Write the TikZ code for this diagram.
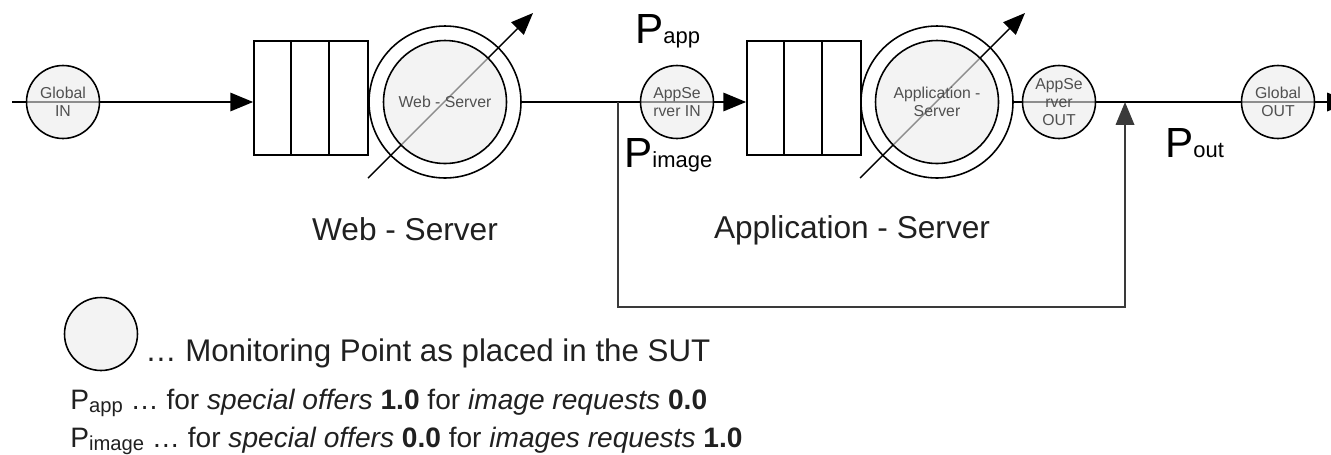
\documentclass[tikz,border=0pt]{standalone}
\usepackage{fontspec}
\setmainfont{Liberation Sans}
\usetikzlibrary{arrows.meta,backgrounds}
\definecolor{monfill}{HTML}{EBEBEB}
\definecolor{montext}{HTML}{505050}
\definecolor{loopgray}{HTML}{3A3A3A}
\definecolor{labeltext}{HTML}{202020}
\newcommand{\psub}[1]{{\fontsize{12.5}{13}\selectfont #1}}
\newcommand{\legsub}[1]{\raisebox{-2pt}{\fontsize{11.5}{12}\selectfont #1}}
\tikzset{
  monpoint/.style={circle,draw,line width=0.9pt,fill=monfill,fill opacity=0.6,
    text opacity=1,draw opacity=1,minimum size=1.46cm,inner sep=0pt,align=center,
    text=montext,font=\fontsize{9}{10.2}\selectfont},
  srvcircle/.style={monpoint,minimum size=2.46cm},
  srvring/.style={circle,draw,line width=0.9pt,minimum size=3.04cm,inner sep=0pt},
  queuebox/.style={rectangle,draw,line width=1pt,fill=white,minimum width=2.28cm,
    minimum height=2.28cm,inner sep=0pt},
  flowline/.style={line width=1.1pt,-{Triangle[length=13pt,width=10.5pt]}},
  loopline/.style={flowline,draw=loopgray},
  loadarrow/.style={line width=0.8pt,-{Triangle[length=12.5pt,width=10pt]}},
  srvlabel/.style={anchor=base,inner sep=0pt,text=labeltext,font=\fontsize{18}{20}\selectfont},
  plabel/.style={anchor=base west,inner sep=0pt,font=\fontsize{24}{26}\selectfont},
  legbig/.style={anchor=base west,inner sep=0pt,text=labeltext,font=\fontsize{17.8}{20}\selectfont},
  legsmall/.style={anchor=base west,inner sep=0pt,text=labeltext,font=\fontsize{16}{18}\selectfont}
}
\begin{document}
\begin{tikzpicture}[x=0.02cm,y=-0.02cm]
  \useasboundingbox (0,0) rectangle (1331,454);
  \clip (0,0) rectangle (1331,454);
  \node[monpoint] (gin) at (63,102) {Global\\IN};
  \node[queuebox] (q1) at (311,98) {};
  \node[srvring] (wsring) at (445,102) {};
  \node[srvcircle] (ws) at (445,102) {Web - Server};
  \node[monpoint] (asin) at (677,102) {AppSe\\rver IN};
  \node[queuebox] (q2) at (804,98) {};
  \node[srvring] (asring) at (937,102) {};
  \node[srvcircle] (as) at (937,102) {Application -\\Server};
  \node[monpoint] (asout) at (1059,102) {AppSe\\rver\\OUT};
  \node[monpoint] (gout) at (1278,102) {Global\\OUT};
  \foreach \q in {q1,q2}
    \foreach \k in {1,2}
      \draw[line width=1pt] ([xshift=\k*0.76cm]\q.north west) -- ([xshift=\k*0.76cm]\q.south west);
  \coordinate (in) at (12,102);
  \coordinate (out) at (1350,102);
  \coordinate (split) at (618,102);
  \coordinate (loopl) at (618,307);
  \coordinate (loopr) at (1125,307);
  \coordinate (join) at (1125,102);
  \begin{scope}[on background layer]
    \draw[flowline] (in) -- (gin.center) -- (gin -| q1.west);
    \draw[flowline] (wsring.east) -- (asin.center) -- (asin -| q2.west);
    \draw[flowline] (asring.east) -- (asout.center) -- (gout.center) -- (out);
    \draw[loopline] (split) -- (loopl) -- (loopr) -- (join);
    \draw[loadarrow] ([shift={(-77,76)}]ws.center) -- ([shift={(88,-89)}]ws.center);
    \draw[loadarrow] ([shift={(-77,76)}]as.center) -- ([shift={(88,-89)}]as.center);
  \end{scope}
  \node[plabel] (papp) at (635,43) {P\psub{app}};
  \node[plabel] (pimage) at (624,167) {P\psub{image}};
  \node[plabel] (pout) at (1165,157) {P\psub{out}};
  \node[srvlabel] (wslabel) at (405,240) {Web - Server};
  \node[srvlabel] (aslabel) at (852,238) {Application - Server};
  \node[monpoint] (legmon) at (101,334) {};
  \node[legbig] (legline1) at (145,361) {… Monitoring Point as placed in the SUT};
  \node[legsmall] (legline2) at (70,409) {P\legsub{app} … for \textit{special offers} \textbf{1.0} for \textit{image requests} \textbf{0.0}};
  \node[legsmall] (legline3) at (70,447) {P\legsub{image} … for \textit{special offers} \textbf{0.0} for \textit{images requests} \textbf{1.0}};
\end{tikzpicture}
\end{document}
